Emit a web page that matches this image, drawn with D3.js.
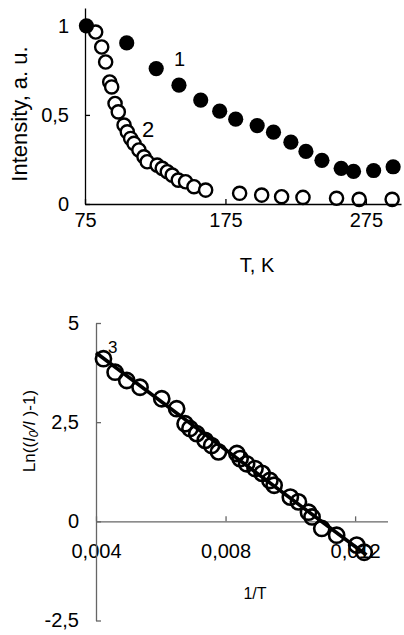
<!DOCTYPE html>
<html>
  <head>
    <meta charset="utf-8" />
    <style>
      body { margin: 0; background: #fff; }
      text { font-family: Arial, "Liberation Sans", sans-serif; }
    </style>
  </head>
  <body>
    <svg id="chart"></svg>

    <script src="https://cdn.jsdelivr.net/npm/d3@7"></script>
    <script>
      // curve 1 (filled circles)
      const temp1 = [76, 104.7, 125.7, 141.9, 157.4, 170.9, 182.3, 197.6, 209.2,
        221.6, 232.3, 243.7, 257.4, 266.2, 280.5, 294.4];
      const intensity1 = [1.0, 0.904, 0.76, 0.667, 0.583, 0.521, 0.476, 0.44, 0.403,
        0.347, 0.295, 0.245, 0.2, 0.183, 0.188, 0.209];

      // curve 2 (open circles)
      const temp2 = [82.6, 86.9, 89.7, 92.6, 94.0, 96.4, 98.7, 102.8, 105.1, 107.5,
        109.9, 113.4, 117.0, 119.3, 126.4, 130.0, 133.6, 137.1, 141.4, 146.6,
        152.6, 160.9, 185.1, 200.8, 215.0, 230.2, 254.1, 270.2, 293.7];
      const intensity2 = [0.965, 0.881, 0.797, 0.685, 0.657, 0.564, 0.517, 0.443,
        0.405, 0.368, 0.34, 0.303, 0.265, 0.237, 0.218, 0.2, 0.181, 0.162, 0.134,
        0.125, 0.097, 0.078, 0.06, 0.05, 0.041, 0.037, 0.032, 0.026, 0.026];

      // curve 3 (Arrhenius plot)
      const invT3 = [0.00423, 0.00459, 0.00495, 0.00536, 0.00603, 0.00649, 0.00675,
        0.0069, 0.00711, 0.00737, 0.00757, 0.00778, 0.00835, 0.00845, 0.00865,
        0.00891, 0.00913, 0.00937, 0.0095, 0.01, 0.01025, 0.01056, 0.01067,
        0.01097, 0.01143, 0.01205, 0.01228];
      const lnRatio3 = [4.1, 3.76, 3.55, 3.38, 3.09, 2.84, 2.46, 2.34, 2.21, 2.04,
        1.91, 1.75, 1.71, 1.58, 1.45, 1.33, 1.21, 1.03, 0.91, 0.61, 0.49, 0.23,
        0.11, -0.18, -0.35, -0.6, -0.78];
      const fitInvT = [0.004, 0.01235];
      const fitLn = [4.25, -0.85];

      const topXTicks = [75, 175, 275];
      const topYTicks = [0, 0.5, 1];
      const topYTickLabels = ["0", "0,5", "1"];
      const botXTicks = [0.004, 0.008, 0.012];
      const botXTickLabels = ["0,004", "0,008", "0,012"];
      const botYTicks = [-2.5, 0, 2.5, 5];
      const botYTickLabels = ["-2,5", "0", "2,5", "5"];

      const width = 404;
      const height = 635;

      const svg = d3.select("#chart").attr("width", width).attr("height", height);

      function styleAxis(g, color, fontSize) {
        g.attr("font-family", null).attr("font-size", fontSize);
        g.select(".domain").attr("stroke", color).attr("stroke-width", 1.3);
        g.selectAll(".tick line").attr("stroke", color).attr("stroke-width", 1.3);
        g.selectAll(".tick text").attr("fill", "#000");
      }

      // ---------- top chart ----------
      const x1 = d3.scaleLinear().domain([75, 300]).range([85, 401]);
      const y1 = d3.scaleLinear().domain([0, 1.1]).range([204, 8]);

      // open circles first, filled on top
      svg
        .append("g")
        .selectAll("circle")
        .data(d3.zip(temp2, intensity2))
        .join("circle")
        .attr("cx", (d) => x1(d[0]))
        .attr("cy", (d) => y1(d[1]))
        .attr("r", 6.6)
        .attr("fill", "#fff")
        .attr("stroke", "#000")
        .attr("stroke-width", 2.4);

      svg
        .append("g")
        .selectAll("circle")
        .data(d3.zip(temp1, intensity1))
        .join("circle")
        .attr("cx", (d) => x1(d[0]))
        .attr("cy", (d) => y1(d[1]))
        .attr("r", 7.6)
        .attr("fill", "#000");

      svg
        .append("g")
        .attr("transform", `translate(0,${y1(0)})`)
        .call(d3.axisBottom(x1).tickValues(topXTicks).tickSize(-5).tickSizeOuter(0).tickPadding(9))
        .call((g) => styleAxis(g, "#000", 20));

      svg
        .append("g")
        .attr("transform", `translate(${x1(75)},0)`)
        .call(
          d3.axisLeft(y1).tickValues(topYTicks).tickSize(-5).tickSizeOuter(0).tickPadding(16)
            .tickFormat((d, i) => topYTickLabels[i])
        )
        .call((g) => styleAxis(g, "#000", 20));

      svg.append("text").attr("x", 257).attr("y", 272).attr("text-anchor", "middle")
        .attr("font-size", 20).text("T, K");

      svg.append("text").attr("transform", "translate(27,114) rotate(-90)")
        .attr("text-anchor", "middle").attr("font-size", 22).text("Intensity, a. u.");

      svg.append("text").attr("x", 174).attr("y", 66).attr("font-size", 20).text("1");
      svg.append("text").attr("x", 142).attr("y", 137).attr("font-size", 22).text("2");

      // ---------- bottom chart ----------
      const x2 = d3.scaleLinear().domain([0.004, 0.013]).range([96, 387.5]);
      const y2 = d3.scaleLinear().domain([-2.5, 5]).range([620.5, 323]);

      svg
        .append("g")
        .attr("transform", `translate(0,${y2(0)})`)
        .call(
          d3.axisBottom(x2).tickValues(botXTicks).tickSize(-5).tickSizeOuter(0).tickPadding(22)
            .tickFormat((d, i) => botXTickLabels[i])
        )
        .call((g) => styleAxis(g, "#666", 20));

      svg
        .append("g")
        .attr("transform", `translate(${x2(0.004)},0)`)
        .call(
          d3.axisLeft(y2).tickValues(botYTicks).tickSize(-5).tickSizeOuter(0).tickPadding(17)
            .tickFormat((d, i) => botYTickLabels[i])
        )
        .call((g) => styleAxis(g, "#666", 20));

      svg
        .append("g")
        .selectAll("circle")
        .data(d3.zip(invT3, lnRatio3))
        .join("circle")
        .attr("cx", (d) => x2(d[0]))
        .attr("cy", (d) => y2(d[1]))
        .attr("r", 7.6)
        .attr("fill", "none")
        .attr("stroke", "#000")
        .attr("stroke-width", 2.6);

      svg
        .append("path")
        .datum(d3.zip(fitInvT, fitLn))
        .attr("fill", "none")
        .attr("stroke", "#000")
        .attr("stroke-width", 3.6)
        .attr("d", d3.line().x((d) => x2(d[0])).y((d) => y2(d[1])));

      svg.append("text").attr("x", 255).attr("y", 599).attr("text-anchor", "middle")
        .attr("font-size", 16).text("1/T");

      svg.append("text").attr("x", 108).attr("y", 353).attr("font-size", 17).text("3");

      const lnLabel = svg.append("text").attr("transform", "translate(35,431) rotate(-90)")
        .attr("text-anchor", "middle").attr("font-size", 17);
      lnLabel.append("tspan").text("Ln((");
      lnLabel.append("tspan").attr("font-style", "italic").text("I");
      lnLabel.append("tspan").attr("font-size", 12).attr("dy", 3).attr("font-style", "italic").text("0");
      lnLabel.append("tspan").attr("dy", -3).attr("font-style", "italic").text("/I");
      lnLabel.append("tspan").text(" )-1)");
    </script>
  </body>
</html>
